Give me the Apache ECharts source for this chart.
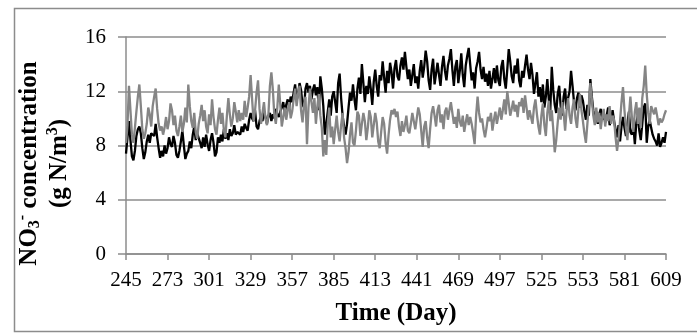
<!DOCTYPE html>
<html>
<head>
<meta charset="utf-8">
<script src="https://cdn.jsdelivr.net/npm/echarts@6/dist/echarts.min.js"></script>
<style>
html, body { margin: 0; padding: 0; background: #fff; }
#main { width: 697px; height: 334px; }
</style>
</head>
<body>
<div id="main"></div>
<script>
// days 245..609
var days = [];
for (var d = 245; d <= 609; d++) days.push(String(d));

// black series, one value per day (by weeks)
var blackLine = [
    7.4, 8.6, 9.8, 8.4, 7.2, 6.9, 7.6,
    8.7, 9.2, 9.4, 8.9, 7.8, 7.0, 7.5,
    8.3, 8.8, 8.2, 8.9, 9.0, 8.7, 9.6,
    8.6, 7.8, 7.1, 7.6, 7.2, 8.0, 7.4,
    7.8, 8.6, 8.1, 7.9, 8.7, 8.2, 7.3,
    7.1, 7.6, 8.3, 9.1, 8.0, 7.0, 7.4,
    7.6, 8.3, 7.8, 8.8, 9.4, 8.4, 8.9,
    9.0, 8.2, 7.8, 8.6, 7.9, 8.8, 8.1,
    7.6, 8.4, 8.9, 8.2, 7.2, 7.5, 8.6,
    8.2, 8.8, 8.3, 9.2, 8.5, 8.9, 8.4,
    9.2, 8.7, 8.9, 9.5, 8.8, 9.0, 9.1,
    8.8, 9.4, 9.0, 9.6, 9.3, 9.1, 9.9,
    10.4, 10.0, 9.8, 10.6, 9.4, 9.2, 9.8,
    10.2, 9.8, 10.5, 10.1, 9.6, 10.2, 10.4,
    9.8, 10.3, 10.0, 10.7, 10.3, 10.1, 10.5,
    10.8, 11.2, 10.4, 11.0, 11.4, 10.8, 11.6,
    11.2, 11.9, 12.5, 11.3, 11.8, 12.6, 12.1,
    11.0, 10.8, 12.2, 12.6, 11.9, 12.4, 11.4,
    12.1, 12.5, 11.7, 12.3, 10.6, 13.1, 12.2,
    10.9, 8.8, 9.6, 10.5, 11.4, 10.2, 11.6,
    12.0, 11.2, 10.4, 12.6, 13.3, 11.5, 10.2,
    9.4, 8.8, 9.6, 10.8, 11.9, 11.3, 12.5,
    11.4, 10.6, 12.2, 13.0, 11.8, 14.0, 12.6,
    11.2, 12.4, 11.8, 13.1, 12.2, 11.0, 12.7,
    13.6, 12.4, 11.6, 13.2, 12.8, 14.2, 13.0,
    11.9, 13.5, 12.6, 14.1, 13.4, 12.2, 13.7,
    14.3, 13.1, 12.8, 13.9, 14.5, 13.6, 14.9,
    13.8, 12.9, 13.6, 12.4, 13.2, 14.0, 12.6,
    13.1, 12.2, 13.5, 14.3, 13.0, 13.8, 15.0,
    14.2, 12.8, 12.1, 13.6, 14.4, 12.5, 13.3,
    14.1, 13.2, 12.4, 13.8, 14.6, 13.5, 12.8,
    13.9, 14.4, 15.1, 13.6, 12.4, 13.8, 14.3,
    12.6, 13.5, 14.8, 13.2, 12.3, 13.9, 14.6,
    15.2, 14.0, 12.8, 13.4, 12.2, 13.7, 14.2,
    14.9, 13.6, 12.9, 13.8, 12.7, 13.3, 12.4,
    13.5, 12.2, 12.9, 13.7, 12.6, 13.9, 12.8,
    12.4, 13.8, 14.3, 12.9, 12.2, 13.6, 15.1,
    14.2, 13.1, 12.6, 13.9, 13.3, 14.4, 12.8,
    12.3, 13.5, 13.0, 13.9, 14.7, 13.6, 12.9,
    14.1, 13.2, 11.8, 12.6, 13.4, 11.6, 12.3,
    11.2, 12.5, 10.8, 11.6, 12.9, 11.4, 10.6,
    13.8, 12.1, 11.0, 10.4, 11.8, 12.4, 10.9,
    10.2, 11.6, 12.2, 10.7, 11.5, 12.0, 13.5,
    12.4, 11.2, 10.6, 11.5, 11.9, 10.8, 11.7,
    11.3, 10.5, 9.9, 11.0, 10.2, 12.9, 11.6,
    10.6, 9.8, 10.5, 9.6, 10.3, 10.7, 9.9,
    10.4, 9.7, 10.2, 10.8, 9.5, 9.9, 10.6,
    9.8, 9.2, 8.6, 9.5, 8.3, 9.4, 10.1,
    9.3, 8.7, 9.6, 10.5, 9.0, 8.8, 9.4,
    8.1, 9.7, 10.2, 9.1, 8.4, 9.6, 10.8,
    11.1, 8.2, 9.4, 9.9, 9.3, 8.8, 8.5,
    8.3, 8.0, 8.9, 7.9, 8.2, 8.6, 8.2,
    9.0
];

// grey series
var greyLine = [
    8.2, 9.5, 12.4, 10.6, 8.8, 8.2, 9.3,
    10.5, 11.6, 12.5, 10.9, 9.2, 8.5, 8.9,
    9.6, 10.8, 10.3, 9.4, 10.9, 11.6, 12.2,
    10.7, 9.6, 9.1, 9.4, 8.8, 9.3, 10.1,
    9.2, 9.8, 11.1, 10.6, 9.5, 10.2, 9.1,
    8.7, 9.4, 10.2, 9.0, 9.6, 10.8, 9.7,
    12.5, 10.9, 9.8, 9.3, 10.4, 9.0, 8.5,
    9.6, 10.2, 11.0, 9.8, 10.6, 9.4, 8.9,
    10.3, 9.5, 11.4, 10.1, 9.2, 8.8, 9.9,
    10.8, 9.6, 10.4, 9.1, 8.6, 10.2, 11.5,
    10.3, 9.4, 10.0, 11.2, 10.5, 9.7, 10.6,
    9.8, 10.4, 9.9, 11.3, 10.1, 10.8, 11.6,
    13.2, 11.4, 9.8, 10.6, 11.9, 12.8, 10.7,
    9.6, 10.4, 11.2, 10.0, 9.5, 10.3, 12.4,
    13.4, 12.1, 10.2, 9.6, 10.8, 12.5, 11.0,
    9.4, 10.1, 10.8, 9.9, 10.6, 11.2, 10.0,
    10.5, 11.4, 12.2, 10.9, 11.8, 12.4, 10.6,
    9.7, 11.0, 11.6, 8.1, 10.8, 12.2, 11.2,
    10.4, 11.5, 9.6, 10.9, 11.8, 10.2, 9.3,
    7.2, 8.4, 7.3, 9.6, 10.8, 8.6, 9.4,
    8.1, 9.2, 10.2, 9.0, 8.3, 9.5, 10.4,
    8.6, 7.8, 6.7, 7.5, 8.8, 9.7, 8.2,
    8.0, 9.1, 10.5, 10.2, 8.7, 9.6, 10.4,
    9.8, 8.4, 9.3, 10.6, 10.1, 8.6, 9.5,
    10.4, 9.7, 8.3, 7.8, 9.0, 10.1, 9.6,
    8.2, 7.4, 8.8, 9.9, 10.6, 10.3, 10.7,
    10.1, 10.5, 9.4, 8.7, 9.8, 9.0, 9.5,
    10.2, 9.1, 8.9, 9.6, 10.4, 9.8, 9.2,
    10.0, 10.8, 10.3, 9.1, 7.9, 9.4, 9.8,
    8.6, 7.8, 9.2, 10.4, 10.9, 10.2, 9.4,
    10.6, 11.0, 9.7, 10.3, 9.2, 10.5, 10.8,
    9.9, 10.6, 11.2, 10.4, 9.6, 10.1, 9.3,
    10.7, 9.8, 9.4, 10.2, 9.0, 9.7, 10.3,
    9.5, 10.1, 9.6, 8.9, 8.1, 10.2, 11.6,
    10.4, 9.7, 10.0, 9.2, 8.6, 9.3, 10.1,
    9.8, 10.4, 9.1, 9.9, 10.5, 9.6, 10.2,
    10.8, 9.9, 10.6, 11.4, 10.3, 12.0, 11.1,
    10.2, 10.7, 11.3, 10.5, 11.0, 10.1, 11.2,
    10.9, 11.5, 10.4, 11.7, 10.8, 9.9, 10.6,
    10.7, 9.6, 10.8, 11.4, 10.3, 9.4, 8.8,
    10.2, 11.1, 9.5, 8.7, 10.4, 11.3, 9.8,
    10.6, 9.2, 7.5, 8.4, 9.7, 10.8, 9.9,
    11.2, 10.4, 9.1, 10.6, 11.5, 10.2, 9.6,
    10.8, 11.4, 10.0, 9.3, 10.7, 11.8, 10.6,
    9.8, 8.9, 8.2, 9.6, 11.0, 12.6, 11.4,
    10.2, 9.5, 10.8, 9.7, 10.4, 9.2, 10.1,
    10.7, 9.4, 10.3, 9.8, 10.9, 9.6, 10.2,
    9.9, 8.6, 7.6, 8.5, 9.8, 11.2, 12.3,
    10.6, 9.3, 8.4, 10.2, 11.6, 10.1, 9.0,
    10.5, 11.2, 9.6, 10.8, 9.3, 11.5, 12.4,
    13.9, 11.8, 10.4, 9.6, 10.9, 11.0, 10.3,
    10.8, 10.2, 9.5, 10.0, 9.7, 9.9, 10.3,
    10.6
];

var yTicks = [0, 4, 8, 12, 16];

var chart = echarts.init(document.getElementById('main'));
var serif = '"Liberation Serif", "Times New Roman", serif';
var grid = '#8c8c8c';

var option = {
    animation: false,
    backgroundColor: '#fff',
    graphic: [{
        type: 'rect',
        z: -10,
        shape: { x: 14.5, y: 8.5, width: 700, height: 323 },
        style: { fill: '#fff', stroke: '#8c8c8c', lineWidth: 1.5 }
    }],
    grid: { left: 126, right: 31, top: 37, bottom: 80 },
    xAxis: {
        type: 'category',
        data: days,
        boundaryGap: false,
        name: 'Time (Day)',
        nameLocation: 'middle',
        nameGap: 47,
        nameTextStyle: { fontFamily: serif, fontWeight: 'bold', fontSize: 25, color: '#000' },
        axisLine: { lineStyle: { color: grid, width: 1.5 } },
        axisTick: { interval: 27, length: 6, lineStyle: { color: grid, width: 1.5 } },
        axisLabel: { interval: 27, fontFamily: serif, fontSize: 21, color: '#000', margin: 16 },
        splitLine: { show: false }
    },
    yAxis: {
        type: 'value',
        min: yTicks[0],
        max: yTicks[yTicks.length - 1],
        interval: 4,
        name: '{b|NO}{sub|3}{sup|-}{b| concentration}\n{b|(g N/m}{sup|3}{b|)}',
        nameLocation: 'middle',
        nameRotate: 90,
        nameGap: 39,
        nameTextStyle: {
            fontFamily: serif, fontWeight: 'bold', fontSize: 25, color: '#000', lineHeight: 30,
            padding: [0, 36, 0, 0],
            rich: {
                b: { fontFamily: serif, fontWeight: 'bold', fontSize: 25, color: '#000', lineHeight: 30 },
                sub: { fontFamily: serif, fontWeight: 'bold', fontSize: 16, color: '#000', padding: [12, 0, 0, 0] },
                sup: { fontFamily: serif, fontWeight: 'bold', fontSize: 16, color: '#000', padding: [0, 0, 12, 0] }
            }
        },
        axisLine: { show: true, lineStyle: { color: grid, width: 1.5 } },
        axisTick: { show: true, length: 8, lineStyle: { color: grid, width: 1.5 } },
        axisLabel: { fontFamily: serif, fontSize: 21, color: '#000', margin: 20 },
        splitLine: { lineStyle: { color: grid, width: 1.5 } }
    },
    series: [
        {
            name: 'black',
            type: 'line',
            data: blackLine,
            symbol: 'none',
            lineStyle: { color: '#000', width: 2.3 }
        },
        {
            name: 'grey',
            type: 'line',
            data: greyLine,
            symbol: 'none',
            lineStyle: { color: '#858585', width: 2.3 }
        }
    ]
};

chart.setOption(option);
</script>
</body>
</html>
